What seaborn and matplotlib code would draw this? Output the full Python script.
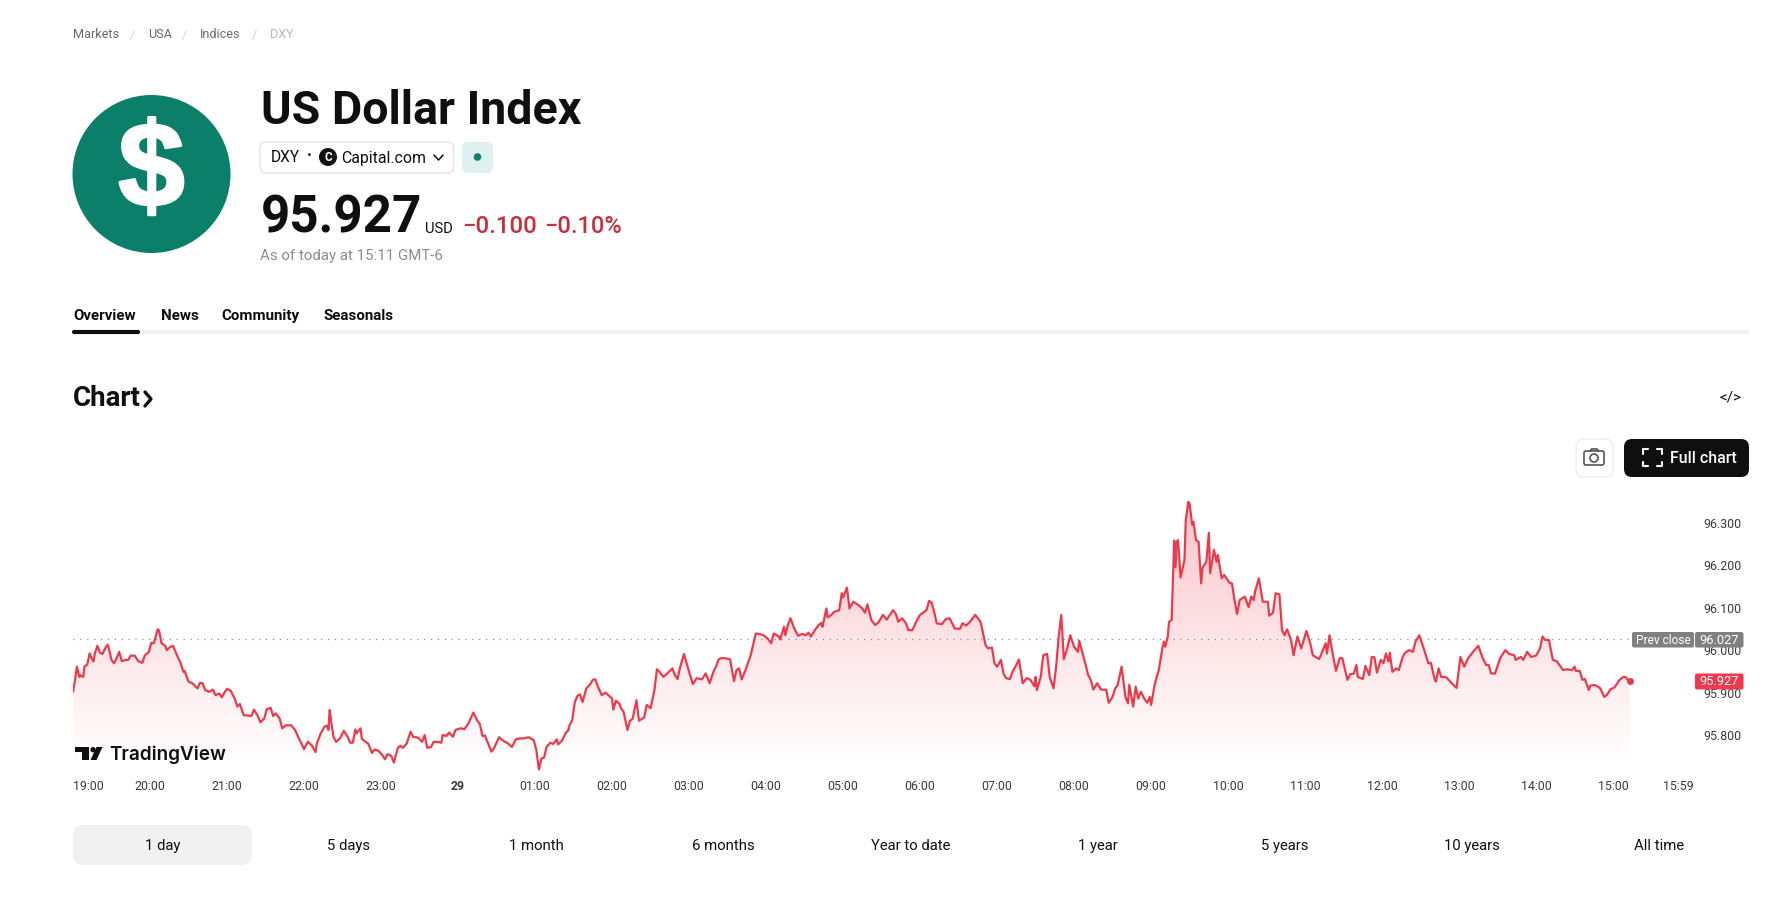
import numpy as np
import pandas as pd
import matplotlib
matplotlib.use('Agg')
import matplotlib.pyplot as plt
import matplotlib.patheffects as pe
from matplotlib.patches import Circle, FancyBboxPatch, Polygon
import seaborn as sns

# minutes since 19:00 and price
minutes_night = [
    0, 2, 3, 5, 6, 8, 9, 11, 13, 14,
    16, 17, 19, 21, 23, 25, 27, 28, 30, 32,
    34, 36, 38, 41, 43, 45, 48, 51, 54, 56,
    59, 61, 63, 66, 67, 69, 72, 73, 76, 78,
    81, 84, 86, 87, 90, 93, 97, 99, 101, 103,
    106, 109, 111, 114, 116, 118, 120, 123, 126, 128,
    130, 133, 136, 139, 141, 144, 146, 149, 151, 154,
    156, 158, 161, 163, 166, 170, 173, 176, 178, 180,
    183, 186, 189, 190, 193, 196, 198, 199, 200, 201,
    203, 205, 208, 211, 214, 216, 218, 220, 221, 224,
    225, 227, 230, 233, 235, 238, 241, 243, 245, 248,
    250, 253, 255, 257, 260, 263, 265, 269, 272, 274,
    276, 279, 281, 284, 287, 288, 291, 293, 296, 298,
    302, 305, 308, 312, 315, 317, 319, 321, 324, 326,
    328, 332, 335, 339, 342, 345, 348, 351, 355, 359,
    361, 363, 365, 367, 369, 372, 374, 377, 378, 381,
    384, 386, 387, 389, 391, 393, 395, 397, 400, 403,
    405, 407, 409, 412, 415, 420, 421, 423, 426, 427,
    429, 432, 434, 436, 439, 441, 445, 447]
price_night = [
    95.902, 95.937, 95.961, 95.937, 95.941, 95.937, 95.962, 95.965, 95.992, 95.984,
    95.973, 95.992, 96.010, 95.994, 95.991, 96.004, 96.013, 96.004, 95.977, 95.969,
    95.981, 95.996, 95.974, 95.977, 95.977, 95.987, 95.987, 95.974, 95.970, 95.988,
    95.995, 96.017, 96.016, 96.049, 96.047, 96.016, 96.010, 96.000, 96.008, 96.010,
    95.988, 95.969, 95.949, 95.951, 95.926, 95.922, 95.910, 95.923, 95.922, 95.906,
    95.902, 95.907, 95.894, 95.898, 95.889, 95.900, 95.909, 95.904, 95.886, 95.867,
    95.873, 95.847, 95.846, 95.845, 95.860, 95.845, 95.830, 95.839, 95.861, 95.864,
    95.845, 95.851, 95.839, 95.816, 95.823, 95.823, 95.812, 95.792, 95.780, 95.767,
    95.784, 95.776, 95.760, 95.780, 95.804, 95.820, 95.822, 95.812, 95.859, 95.835,
    95.796, 95.784, 95.792, 95.810, 95.796, 95.782, 95.782, 95.813, 95.804, 95.816,
    95.792, 95.786, 95.780, 95.758, 95.766, 95.763, 95.753, 95.743, 95.755, 95.751,
    95.735, 95.769, 95.775, 95.770, 95.780, 95.808, 95.796, 95.794, 95.784, 95.800,
    95.770, 95.772, 95.784, 95.784, 95.782, 95.800, 95.798, 95.806, 95.796, 95.812,
    95.816, 95.814, 95.827, 95.853, 95.834, 95.826, 95.798, 95.799, 95.776, 95.761,
    95.769, 95.795, 95.787, 95.780, 95.772, 95.790, 95.792, 95.792, 95.795, 95.788,
    95.765, 95.719, 95.745, 95.747, 95.772, 95.782, 95.779, 95.790, 95.778, 95.787,
    95.805, 95.812, 95.824, 95.835, 95.878, 95.892, 95.896, 95.878, 95.910, 95.920,
    95.930, 95.931, 95.914, 95.894, 95.900, 95.886, 95.860, 95.881, 95.873, 95.863,
    95.855, 95.812, 95.834, 95.838, 95.882, 95.834, 95.841, 95.871]

minutes_morning = [
    450, 453, 455, 457, 460, 463, 465, 467, 469, 471,
    473, 476, 480, 483, 486, 490, 493, 496, 499, 501,
    503, 505, 508, 512, 515, 517, 519, 521, 524, 528,
    532, 535, 538, 541, 544, 546, 550, 551, 554, 555,
    557, 559, 562, 565, 568, 571, 573, 575, 578, 581,
    583, 584, 587, 588, 591, 593, 597, 599, 600, 603,
    605, 608, 612, 615, 617, 619, 622, 625, 628, 631,
    634, 639, 641, 643, 646, 649, 651, 654, 657, 660,
    665, 667, 669, 671, 673, 677, 680, 683, 687, 691,
    693, 696, 699, 703, 707, 708, 711, 713, 716, 718,
    720, 723, 725, 727, 730, 732, 735, 737, 740, 743,
    746, 749, 750, 751, 754, 756, 759, 761, 764, 766,
    768, 770, 772, 775, 777, 780, 783, 784, 789, 791,
    793, 795, 798, 801, 805, 807, 810, 812, 814, 817,
    820, 822, 823, 826, 828, 830, 832, 835, 837, 839,
    840, 843, 846, 849, 850, 851, 853, 854, 856, 857,
    858, 859, 860, 861, 863, 866, 867, 869, 870, 872,
    873, 875, 877, 879, 880, 883, 885, 886, 889, 891,
    892, 895, 897, 901]
price_morning = [
    95.863, 95.906, 95.955, 95.949, 95.937, 95.945, 95.951, 95.957, 95.941, 95.932,
    95.959, 95.991, 95.949, 95.920, 95.934, 95.931, 95.945, 95.922, 95.949, 95.961,
    95.978, 95.981, 95.981, 95.978, 95.927, 95.953, 95.957, 95.931, 95.953, 95.988,
    96.039, 96.038, 96.035, 96.028, 96.016, 96.039, 96.032, 96.025, 96.055, 96.035,
    96.059, 96.075, 96.051, 96.034, 96.038, 96.035, 96.041, 96.032, 96.047, 96.059,
    96.064, 96.055, 96.098, 96.077, 96.083, 96.090, 96.094, 96.134, 96.124, 96.147,
    96.098, 96.114, 96.106, 96.098, 96.088, 96.108, 96.071, 96.059, 96.067, 96.083,
    96.072, 96.094, 96.086, 96.067, 96.075, 96.063, 96.047, 96.047, 96.067, 96.083,
    96.094, 96.116, 96.112, 96.090, 96.063, 96.061, 96.073, 96.075, 96.051, 96.050,
    96.063, 96.058, 96.067, 96.083, 96.067, 96.055, 96.012, 96.004, 96.006, 95.969,
    95.961, 95.977, 95.945, 95.934, 95.932, 95.949, 95.965, 95.978, 95.922, 95.934,
    95.930, 95.915, 95.937, 95.906, 95.937, 95.988, 95.991, 95.937, 95.910, 95.961,
    96.032, 96.083, 95.979, 96.008, 96.035, 96.008, 95.996, 96.022, 95.965, 95.941,
    95.930, 95.907, 95.922, 95.907, 95.907, 95.876, 95.890, 95.910, 95.918, 95.961,
    95.890, 95.875, 95.918, 95.867, 95.914, 95.886, 95.902, 95.884, 95.876, 95.890,
    95.871, 95.922, 95.953, 96.008, 96.020, 96.008, 96.032, 96.067, 96.071, 96.165,
    96.258, 96.195, 96.255, 96.259, 96.171, 96.212, 96.306, 96.349, 96.345, 96.295,
    96.302, 96.259, 96.255, 96.157, 96.193, 96.208, 96.276, 96.181, 96.236, 96.208,
    96.224, 96.169, 96.177, 96.159]

minutes_day = [
    903, 905, 907, 909, 911, 913, 916, 918, 920, 921,
    924, 927, 931, 932, 935, 937, 940, 942, 944, 946,
    949, 951, 954, 957, 961, 964, 966, 971, 976, 977,
    979, 981, 984, 987, 989, 993, 995, 998, 1000, 1001,
    1005, 1007, 1010, 1012, 1014, 1016, 1019, 1021, 1023, 1025,
    1026, 1028, 1031, 1033, 1036, 1038, 1041, 1044, 1046, 1049,
    1052, 1056, 1058, 1061, 1062, 1064, 1066, 1070, 1073, 1078,
    1081, 1084, 1087, 1092, 1095, 1098, 1101, 1103, 1105, 1108,
    1112, 1116, 1119, 1123, 1124, 1128, 1130, 1133, 1136, 1140,
    1143, 1145, 1147, 1150, 1153, 1156, 1161, 1164, 1168, 1170,
    1171, 1174, 1176, 1178, 1181, 1182, 1185, 1187, 1190, 1193,
    1195, 1198, 1201, 1205, 1208, 1210, 1212, 1213]
price_day = [
    96.157, 96.118, 96.085, 96.118, 96.122, 96.126, 96.101, 96.126, 96.118, 96.138,
    96.169, 96.114, 96.114, 96.081, 96.088, 96.134, 96.131, 96.047, 96.035, 96.049,
    96.024, 95.988, 96.032, 96.004, 96.045, 96.016, 95.988, 95.979, 96.016, 95.992,
    96.035, 96.000, 95.951, 95.981, 95.981, 95.930, 95.943, 95.945, 95.965, 95.937,
    95.932, 95.963, 95.941, 95.984, 95.983, 95.947, 95.977, 95.969, 95.992, 95.973,
    95.994, 95.949, 95.957, 95.953, 95.984, 95.994, 96.000, 95.996, 96.020, 96.035,
    96.008, 95.969, 95.970, 95.930, 95.926, 95.957, 95.937, 95.936, 95.926, 95.911,
    95.984, 95.961, 95.981, 96.000, 96.010, 95.984, 95.965, 95.965, 95.945, 95.945,
    95.981, 96.000, 95.991, 95.988, 95.977, 95.984, 95.977, 95.996, 95.984, 95.987,
    96.004, 96.032, 96.024, 96.024, 95.977, 95.974, 95.953, 95.955, 95.953, 95.961,
    95.951, 95.951, 95.930, 95.932, 95.906, 95.916, 95.918, 95.916, 95.910, 95.890,
    95.894, 95.908, 95.912, 95.930, 95.937, 95.936, 95.928, 95.927]

prev_close = 96.027
last_price = 95.927

x_ticks = [0, 60, 120, 180, 240, 300, 360, 420, 480, 540, 600, 660, 720, 780, 840,
           900, 960, 1020, 1080, 1140, 1200, 1263]
x_labels = ['19:00', '20:00', '21:00', '22:00', '23:00', '29', '01:00', '02:00', '03:00',
            '04:00', '05:00', '06:00', '07:00', '08:00', '09:00', '10:00', '11:00',
            '12:00', '13:00', '14:00', '15:00', '15:59']
y_ticks = [95.8, 95.9, 96.0, 96.1, 96.2, 96.3]
ranges = ['1 day', '5 days', '1 month', '6 months', 'Year to date', '1 year', '5 years',
          '10 years', 'All time']
range_x = [163, 349, 536, 723.5, 910.5, 1098, 1285, 1472, 1659]
tabs = ['Overview', 'News', 'Community', 'Seasonals']
tab_x = [73, 161.5, 221, 323]
crumbs = ['Markets', 'USA', 'Indices', 'DXY']
crumb_x = [73, 148, 200, 270]

W, H = 1778, 897
RED = '#EC3A4C'
GREEN = '#0B7F6A'

sns.set_theme(style='white')
plt.rcParams['font.family'] = ['Roboto', 'DejaVu Sans']

df = pd.DataFrame({'minutes': minutes_night + minutes_morning + minutes_day,
                   'price': price_night + price_morning + price_day})

fig = plt.figure(figsize=(W / 100, H / 100), dpi=100, facecolor='white')
ax = fig.add_axes([73 / W, 1 - 775 / H, (1694 - 73) / W, 295 / H])
ax.set_facecolor('none')

xmax, ymin, ymax = 1263, 95.706, 96.4005

# red gradient under the line
band = ax.fill_between(df['minutes'], df['price'], ymin, facecolor='none', linewidth=0)
rgba = np.zeros((256, 1, 4))
rgba[..., 0], rgba[..., 1], rgba[..., 2] = matplotlib.colors.to_rgb('#F23645')
rgba[..., 3] = np.clip(np.linspace(0.29, -0.01, 256), 0, 1)[:, None]
im = ax.imshow(rgba, extent=[0, xmax, 95.706, 96.36], aspect='auto', origin='upper', zorder=1)
im.set_clip_path(band.get_paths()[0], transform=ax.transData)

ax.axhline(prev_close, color='#8f8f8f', lw=0.9, ls=(0, (1, 4.5)), zorder=2)
sns.lineplot(data=df, x='minutes', y='price', color=RED, lw=1.6, estimator=None, ax=ax, zorder=3)
ax.scatter(df['minutes'].iloc[-1], last_price, s=16, color=RED, zorder=4)

ax.set_xlim(0, xmax)
ax.set_ylim(ymin, ymax)
ax.set_xlabel('')
ax.set_ylabel('')
sns.despine(ax=ax, left=True, bottom=True, right=True, top=True)
ax.set_xticks(x_ticks)
ax.set_xticklabels(x_labels, fontsize=8.9, color='#3a3a3a')
ax.set_yticks(y_ticks)
ax.set_yticklabels(['%.3f' % v for v in y_ticks], fontsize=8.9, color='#3a3a3a')
ax.yaxis.tick_right()
ax.tick_params(axis='x', length=0, pad=3.5)
ax.tick_params(axis='y', length=0, pad=7)
labels = ax.get_xticklabels()
labels[0].set_ha('left')
labels[-1].set_ha('right')
labels[5].set_fontweight('bold')

# page furniture, in pixel coordinates
ui = fig.add_axes([0, 0, 1, 1], zorder=5)
ui.set_xlim(0, W)
ui.set_ylim(H, 0)
ui.axis('off')


def label(x, y, s, size, color='#0f0f0f', weight='normal', ha='left', **kw):
    # y is the text baseline
    return ui.text(x, y, s, fontsize=size, color=color, fontweight=weight, ha=ha, va='baseline', **kw)


def box(x0, y0, x1, y1, r, face, edge='none', lw=1):
    ui.add_patch(FancyBboxPatch((x0 + r, y0 + r), x1 - x0 - 2 * r, y1 - y0 - 2 * r,
                                boxstyle='round,pad=%s,rounding_size=%s' % (r, r),
                                facecolor=face, edgecolor=edge, linewidth=lw))


for i, c in enumerate(crumbs):
    label(crumb_x[i], 38.5, c, 9.1, color='#b8b8b8' if c == 'DXY' else '#6a6a6a')
for x in [133, 185, 255]:
    label(x, 38.5, '/', 9.1, color='#d4d4d4', ha='center')

ui.add_patch(Circle((151.5, 174), 79, facecolor=GREEN, linewidth=0))
d = label(151.5, 206, '$', 86, color='white', weight='bold', ha='center', family='Liberation Sans')
d.set_path_effects([pe.withStroke(linewidth=2, foreground='white')])

label(261, 123.5, 'US Dollar Index', 33.5, weight='bold')

box(260, 142, 453.5, 173, 6, 'white', '#e4e4e4')
label(271, 162.5, 'DXY', 11.2)
label(309, 160, '·', 12, ha='center', weight='bold')
ui.add_patch(Circle((328, 157), 9, facecolor='#0f0f0f', linewidth=0))
label(328, 161, 'C', 8.5, color='white', weight='bold', ha='center')
label(341, 162.5, 'Capital.com', 11.4)
ui.plot([434, 438.5, 443], [155, 160, 155], color='#0f0f0f', lw=1.1)
box(462, 142, 493, 173, 6, '#DDF1EE')
ui.add_patch(Circle((477.5, 157), 3.8, facecolor=GREEN, linewidth=0))

label(261, 232.7, '95.927', 36.8, weight='bold')
label(425.5, 233, 'USD', 10.6)
label(462, 233, '\u22120.100', 17.3, color='#C4303F', weight='medium')
label(544, 233, '\u22120.10%', 17, color='#C4303F', weight='medium')
label(260, 260, 'As of today at 15:11 GMT-6', 10.8, color='#8c8c8c')

for t, x in zip(tabs, tab_x):
    label(x, 320, t, 10.9, weight='bold')
ui.plot([73, 1749], [332, 332], color='#f0f0f0', lw=2.8, solid_capstyle='butt')
ui.plot([74, 138], [332, 332], color='#0f0f0f', lw=3, solid_capstyle='round')

label(73, 406, 'Chart', 20, weight='bold')
ui.plot([145, 151, 145], [392, 399, 406], color='#0f0f0f', lw=2.4)
label(1730, 402, '</>', 11, ha='center')

box(1576, 439, 1613, 477, 8, 'white', '#eeeeee')
box(1584, 451, 1604, 465, 2, 'none', '#555555', 1.2)
ui.add_patch(Circle((1594, 458), 4, facecolor='none', edgecolor='#555555', linewidth=1.2))
ui.plot([1590, 1591.5, 1597, 1598.5], [451, 449, 449, 451], color='#555555', lw=1.2)
box(1624, 439, 1749, 477, 8, '#0f0f0f')
for xs, ys in [([1643, 1643, 1648], [454, 449.5, 449.5]), ([1657, 1661.5, 1661.5], [449.5, 449.5, 454]),
               ([1643, 1643, 1648], [462, 466.5, 466.5]), ([1657, 1661.5, 1661.5], [466.5, 466.5, 462])]:
    ui.plot(xs, ys, color='white', lw=1.5)
label(1670, 463, 'Full chart', 11.4, color='white', weight='medium')

# TradingView mark
ui.add_patch(Polygon([(75, 747), (89, 747), (89, 760), (82, 760), (82, 752.5), (75, 752.5)],
                     facecolor='#0f0f0f', linewidth=0))
ui.add_patch(Circle((93, 749.7), 2.7, facecolor='#0f0f0f', linewidth=0))
ui.add_patch(Polygon([(96.5, 747), (102.5, 747), (96.5, 760), (90.5, 760)], facecolor='#0f0f0f', linewidth=0))
label(109, 759.5, 'TradingView', 13.6, weight='semibold', family='Inter')

box(1632, 632, 1694, 647.5, 2, '#808080')
label(1663, 643.5, 'Prev close', 8.6, color='white', ha='center')
box(1695, 632, 1743.5, 647.5, 2, '#808080')
label(1719.5, 643.5, '96.027', 9.2, color='white', ha='center')
box(1695, 673.5, 1743.5, 689.5, 2, RED)
label(1719.5, 685.3, '95.927', 9.2, color='white', ha='center')

box(73, 825, 252, 865, 10, '#f0f0f0')
for t, x in zip(ranges, range_x):
    label(x, 850, t, 10.7, ha='center')

fig.savefig('out.png', dpi=100, facecolor='white')
